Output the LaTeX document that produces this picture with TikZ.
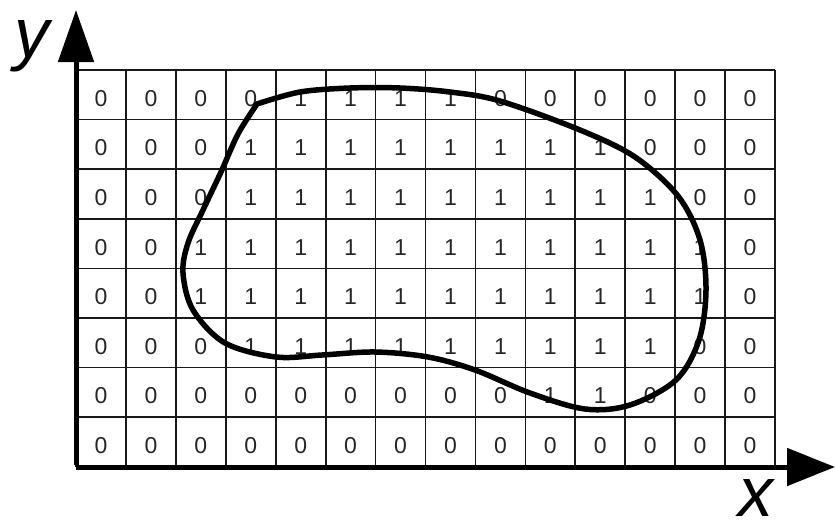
\documentclass[tikz,border=0pt]{standalone}
\usepackage{fontspec}
\setmainfont{Liberation Sans}
\usetikzlibrary{arrows.meta}
\begin{document}
\begin{tikzpicture}[x=1pt,y=-1pt,
  gridline/.style={draw=black!90,line width=1.7pt},
  axisline/.style={draw=black,line width=5pt},
  digit/.style={inner sep=0pt,text=black!85,font=\fontsize{23}{23}\selectfont},
  axlabel/.style={inner sep=0pt,anchor=base,font=\fontsize{70}{70}\selectfont\itshape},
  contour/.style={draw=black,line width=5.5pt,line join=round,line cap=round}]
\useasboundingbox (0,0) rectangle (835,522);
\def\cw{49.93}
\def\rh{49.6}
% grid
\foreach \i in {0,...,14} \draw[gridline] ({76+\i*\cw},70) -- ({76+\i*\cw},467);
\foreach \j in {0,...,8} \draw[gridline] (76,{70+\j*\rh}) -- (775,{70+\j*\rh});
% values
\foreach \row [count=\r] in {
 {0,0,0,0,1,1,1,1,0,0,0,0,0,0},
 {0,0,0,1,1,1,1,1,1,1,1,0,0,0},
 {0,0,0,1,1,1,1,1,1,1,1,1,0,0},
 {0,0,1,1,1,1,1,1,1,1,1,1,1,0},
 {0,0,1,1,1,1,1,1,1,1,1,1,1,0},
 {0,0,0,1,1,1,1,1,1,1,1,1,0,0},
 {0,0,0,0,0,0,0,0,0,1,1,0,0,0},
 {0,0,0,0,0,0,0,0,0,0,0,0,0,0}}{
  \foreach \v [count=\c] in \row {
    \node[digit] (cell-\r-\c) at ({76+(\c-0.5)*\cw},{73.5+(\r-0.5)*\rh}) {\v};
  }
}
% axes
\coordinate (origin) at (76,467);
\coordinate (xend) at (835,467);
\coordinate (yend) at (76,10);
\draw[axisline,-{Triangle[length=48pt,width=37pt]}] (origin) -- (xend);
\draw[axisline,-{Triangle[length=52pt,width=35pt]}] ([yshift=2.5pt]origin) -- (yend);
\node[axlabel] (ylab) at (32,57) {y};
\node[axlabel] (xlab) at (756,516) {x};
% contour
\draw[contour] plot[smooth,tension=0.55] coordinates {
 (257,104) (300,92) (350,88) (400,88) (450,92) (500,101) (580,130) (635,157)
 (678,196) (700,240) (706,290) (699,340) (676,380) (630,405) (585,409)
 (530,393) (475,370) (428,357) (375,352) (322,355) (276,357) (225,343)
 (193,310) (183,273) (188,243) (203,210) (221,172) (238,134) (257,104)};
\end{tikzpicture}
\end{document}
